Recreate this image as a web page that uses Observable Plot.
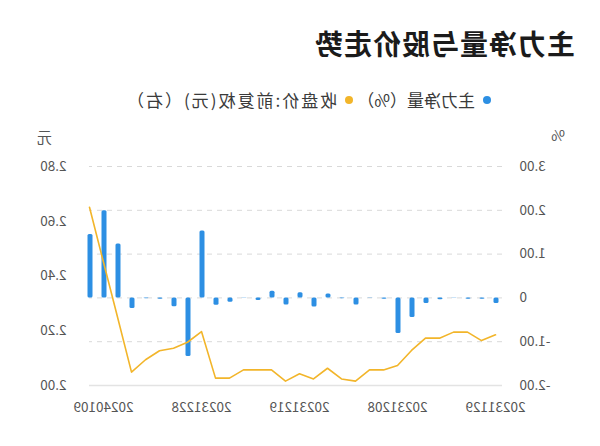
<!DOCTYPE html>
<html>
<head>
<meta charset="utf-8">
<script src="https://cdn.jsdelivr.net/npm/d3@7"></script>
<script src="https://cdn.jsdelivr.net/npm/@observablehq/plot@0.6"></script>
<style>
  html, body { margin: 0; padding: 0; background: #fff; }
  #wrap { position: relative; width: 600px; height: 446px; background: #fff; transform: scaleX(-1); overflow: hidden;
          font-family: "Noto Sans CJK SC", "Noto Sans", sans-serif; }
  #title { position: absolute; left: 25px; top: 23px; font-size: 28px; font-weight: bold; color: #1b1b1b; letter-spacing: 1px; line-height: 40px; }
  #legend { position: absolute; left: 109px; top: 87px; font-size: 17px; line-height: 26px; color: #3a3a3a; white-space: nowrap; }
  #legend span.item0 { margin-right: 4px; }
  #legend span.item1 { letter-spacing: 2px; }
  #legend i { display: inline-block; width: 8px; height: 8px; border-radius: 50%; margin-right: 8px; vertical-align: 3px; }
  #unitL { position: absolute; left: 35px; top: 124px; font-size: 15px; color: #555; }
  #unitR { position: absolute; left: 548px; top: 126px; font-size: 15px; color: #555; }
  #chart { position: absolute; left: 0; top: 120px; }
</style>
</head>
<body>
<div id="wrap">
  <div id="title"></div>
  <div id="legend"></div>
  <div id="unitL"></div>
  <div id="unitR"></div>
  <div id="chart"></div>
</div>
<script>
// ---- data ----
const titleText = "主力净量与股价走势";
const seriesNames = ["主力净量（%）", "收盘价:前复权(元)（右）"];
const seriesColors = ["#2d8fe3", "#f2b52a"];
const unitLeft = "%";
const unitRight = "元";
const dates = ["20231129","20231130","20231201","20231204","20231205","20231206","20231207","20231208",
  "20231211","20231212","20231213","20231214","20231215","20231218","20231219","20231220","20231221","20231222",
  "20231225","20231226","20231227","20231228","20231229","20240102","20240103","20240104","20240105",
  "20240108","20240109","20240110"];
const netFlow = [-0.13, -0.03, -0.03, -0.01, -0.04, -0.13, -0.45, -0.81, -0.03, -0.01,
  -0.16, -0.02, 0.09, -0.21, 0.12, -0.16, 0.15, -0.06, -0.01, -0.10,
  -0.17, 1.53, -1.34, -0.20, -0.03, -0.02, -0.24, 1.23, 1.99, 1.45];
const closePrice = [2.185, 2.164, 2.195, 2.195, 2.173, 2.173, 2.128, 2.073, 2.057, 2.057,
  2.016, 2.024, 2.063, 2.024, 2.043, 2.016, 2.057, 2.057, 2.057, 2.027,
  2.027, 2.197, 2.158, 2.136, 2.127, 2.094, 2.049, 2.250, 2.450, 2.651];
const xTickLabels = ["20231129","20231208","20231219","20231228","20240109"];
const leftTicks = [-2, -1, 0, 1, 2, 3];
const rightTicks = [2.0, 2.2, 2.4, 2.6, 2.8];

// ---- scales linking ----
const leftDomain = [-2, 3];
const rightDomain = [2.0, 2.8];
const toLeft = p => leftDomain[0] + (p - rightDomain[0]) / (rightDomain[1] - rightDomain[0]) * (leftDomain[1] - leftDomain[0]);
const fromLeft = v => rightDomain[0] + (v - leftDomain[0]) / (leftDomain[1] - leftDomain[0]) * (rightDomain[1] - rightDomain[0]);

const data = dates.map((d, i) => ({date: d, flow: netFlow[i], price: closePrice[i], py: toLeft(closePrice[i])}));

document.getElementById("title").textContent = titleText;
document.getElementById("legend").innerHTML = seriesNames.map((n, i) =>
  `<span class="item${i}"><i style="background:${seriesColors[i]}"></i>${n}</span>`).join("");
document.getElementById("unitL").textContent = unitLeft;
document.getElementById("unitR").textContent = unitRight;

const fmtLeft = v => v === 0 ? "0" : (v < 0 ? "-" : "") + Math.abs(v).toFixed(2);

const chart = Plot.plot({
  width: 600,
  height: 326,
  marginTop: 46,
  marginBottom: 61,
  marginLeft: 96,
  marginRight: 83,
  style: {fontFamily: "'Noto Sans CJK SC', 'Noto Sans', sans-serif", fontSize: "13.5px", color: "#555", background: "transparent"},
  x: {type: "band", domain: dates, padding: 0},
  y: {domain: leftDomain},
  marks: [
    Plot.gridY(leftTicks.filter(t => t !== leftDomain[0]), {stroke: "#d9d9d9", strokeOpacity: 1, strokeDasharray: "5,5", insetLeft: 2, insetRight: 6}),
    Plot.ruleY([leftDomain[0]], {stroke: "#e3e3e3", strokeWidth: 1.5, insetLeft: 2, insetRight: 6}),
    Plot.barY(data, {x: "date", y: "flow", fill: seriesColors[0], insetLeft: 4.5, insetRight: 4.5, rx: 1.5}),
    Plot.line(data, {x: "date", y: "py", stroke: seriesColors[1], strokeWidth: 1.6}),
    Plot.axisY({ticks: leftTicks, tickFormat: fmtLeft, tickSize: 0, tickPadding: 16, label: null, fill: "#555"}),
    Plot.axisY({anchor: "right", ticks: rightTicks.map(toLeft), tickFormat: v => fromLeft(v).toFixed(2), tickSize: 0, tickPadding: 16, label: null, fill: "#555"}),
    Plot.axisX({ticks: xTickLabels, tickSize: 0, tickPadding: 17, label: null, fill: "#555"})
  ]
});
document.getElementById("chart").appendChild(chart);
</script>
</body>
</html>
